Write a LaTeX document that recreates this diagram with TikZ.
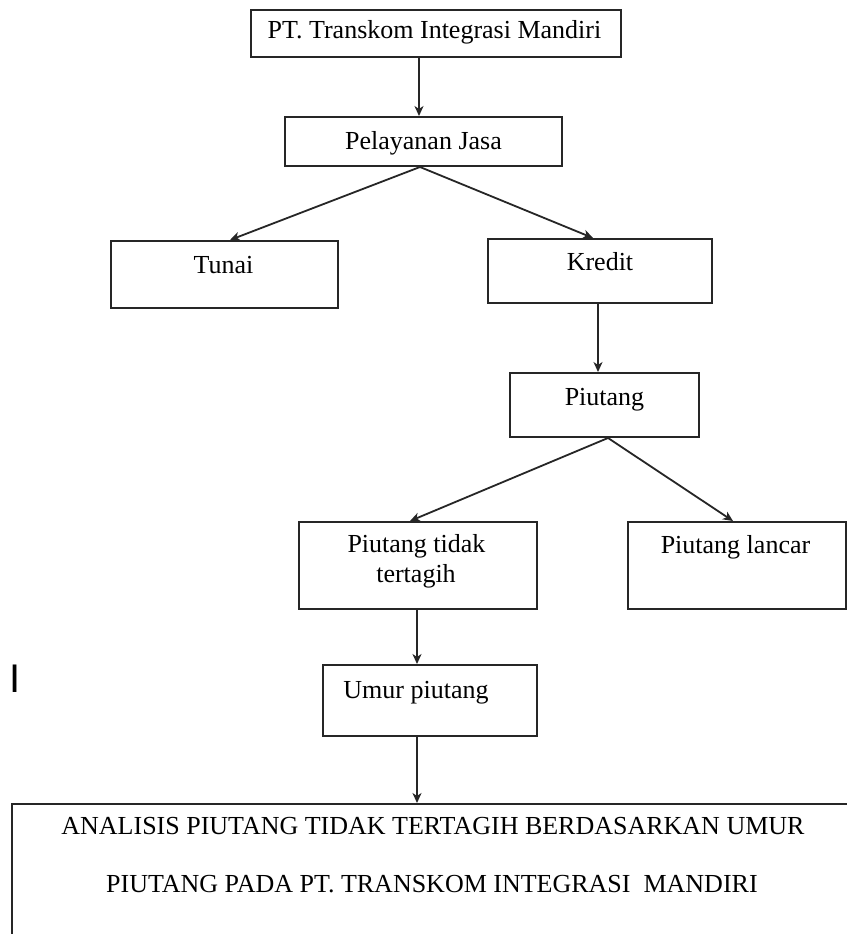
\documentclass[tikz,border=0pt]{standalone}
\usepackage{fontspec}
\setmainfont{Liberation Serif}
\newfontfamily\marksans{Liberation Sans}
\usetikzlibrary{arrows.meta}
\begin{document}
\begin{tikzpicture}[x=1pt,y=-1pt,
  box/.style={draw=black!85, line width=2pt, inner sep=0pt, fill=none},
  lbl/.style={inner sep=0pt, anchor=base, font=\fontsize{26}{30}\selectfont},
  arr/.style={draw=black!85, line width=1.8pt, -{Stealth[length=10pt,width=9pt,inset=3pt]}}]
\useasboundingbox (0,0) rectangle (846,934);
\fill[white] (0,0) rectangle (846,934);
% boxes
\node[box, minimum width=370pt, minimum height=47pt] (top) at (436,33.5) {};
\node[box, minimum width=277pt, minimum height=49pt] (pel) at (423.5,141.5) {};
\node[box, minimum width=227pt, minimum height=67pt] (tun) at (224.5,274.5) {};
\node[box, minimum width=224pt, minimum height=64pt] (kre) at (600,271) {};
\node[box, minimum width=189pt, minimum height=64pt] (piu) at (604.5,405) {};
\node[box, minimum width=238pt, minimum height=87pt] (ptt) at (418,565.5) {};
\node[box, minimum width=218pt, minimum height=87pt] (lan) at (737,565.5) {};
\node[box, minimum width=214pt, minimum height=71pt] (umr) at (430,700.5) {};
\node[box, minimum width=860pt, minimum height=160pt, anchor=north west] (big) at (11,803) {};
% texts
\node[lbl] (tTop) at (434.5,39) {PT. Transkom Integrasi Mandiri};
\node[lbl] (tPel) at (423.5,149) {Pelayanan Jasa};
\node[lbl] (tTun) at (223.5,273) {Tunai};
\node[lbl] (tKre) at (600,270) {Kredit};
\node[lbl] (tPiu) at (604.5,405) {Piutang};
\node[lbl] (tPtt) at (416.5,552) {Piutang tidak};
\node[lbl] (tPtt2) at (416,582) {tertagih};
\node[lbl] (tLan) at (735.5,553) {Piutang lancar};
\node[lbl] (tUmr) at (416,698) {Umur piutang};
\node[lbl] (tBig) at (433,834) {ANALISIS PIUTANG TIDAK TERTAGIH BERDASARKAN UMUR};
\node[lbl] (tBig2) at (432,892) {PIUTANG PADA PT. TRANSKOM INTEGRASI\ \ MANDIRI};
\node[inner sep=0pt, anchor=base, font=\marksans\fontsize{40}{40}\selectfont] (mark) at (15.5,692) {I};
% connectors
\coordinate (p1) at (419,0);
\draw[arr] (top.south -| p1) -- (pel.north -| p1);
\coordinate (ap) at (420,0);
\coordinate (tt) at (230,0);
\coordinate (kt) at (593,0);
\draw[arr] (pel.south -| ap) -- (tun.north -| tt);
\draw[arr] (pel.south -| ap) -- (kre.north -| kt);
\coordinate (p2) at (598,0);
\draw[arr] (kre.south -| p2) -- (piu.north -| p2);
\coordinate (ap2) at (608,0);
\coordinate (pt) at (410,0);
\coordinate (lt) at (733,0);
\draw[arr] (piu.south -| ap2) -- (ptt.north -| pt);
\draw[arr] (piu.south -| ap2) -- (lan.north -| lt);
\coordinate (p3) at (417,0);
\draw[arr] (ptt.south -| p3) -- (umr.north -| p3);
\draw[arr] (umr.south -| p3) -- (big.north -| p3);
\end{tikzpicture}
\end{document}
